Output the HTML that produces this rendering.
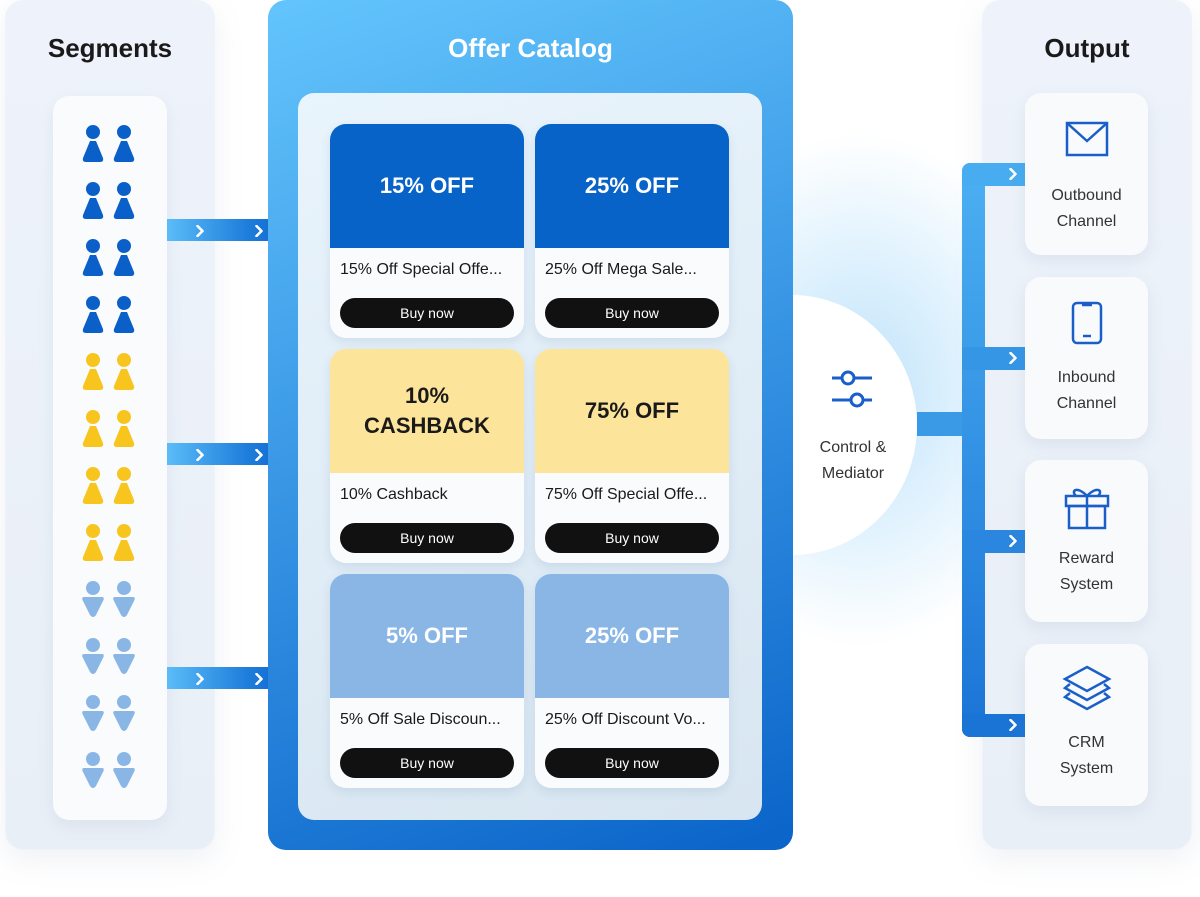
<!DOCTYPE html>
<html><head><meta charset="utf-8"><style>
*{margin:0;padding:0;box-sizing:border-box}
body{width:1200px;height:897px;background:#fff;position:relative;overflow:hidden;font-family:"Liberation Sans","DejaVu Sans",sans-serif}
.abs{position:absolute}
.sidep{background:linear-gradient(180deg,#eef3fb,#e9eff7);border-radius:18px;border:1px solid #f0f3f8;box-shadow:0 10px 30px rgba(120,140,170,.12)}
.title{font-weight:bold;font-size:26px;color:#1a1a1a;text-align:center}
.conn{height:22px;background:linear-gradient(90deg,#5bbcf7,#1f7fdc 60%,#0a5fc9)}
.card{width:194px;height:214px;border-radius:16px;background:#fafbfd;overflow:hidden;box-shadow:0 4px 10px rgba(60,100,150,.12)}
.hd{height:124px;display:flex;align-items:center;justify-content:center;font-weight:bold;font-size:22px;text-align:center;line-height:30px}
.tx{font-size:16px;color:#1a1a1a;padding:13px 0 0 10px;height:50px}
.bt{margin:0 10px;height:30px;border-radius:15px;background:#111;color:#fff;font-size:14px;text-align:center;line-height:30px}
.oc{left:1025px;width:123px;height:162px;border-radius:16px;background:#f9fafc;box-shadow:0 6px 16px rgba(100,120,150,.12);text-align:center;font-size:16px;color:#333;line-height:26px}
.oc svg{display:block;margin:28px auto 26px}
.br{left:962px;width:63px;height:23px}
</style></head><body>
<svg width="0" height="0" style="position:absolute"><defs><path id="ch" d="M0,0 L5,5 L0,10" fill="none" stroke="#fff" stroke-width="2.6" stroke-linecap="round" stroke-linejoin="round"/></defs></svg>
<!-- glow -->
<div class="abs" style="left:660px;top:130px;width:400px;height:520px;background:radial-gradient(ellipse at center,#bfe3fb 0%,rgba(215,238,253,.7) 40%,rgba(255,255,255,0) 70%)"></div>
<!-- left panel -->
<div class="abs sidep" style="left:5px;top:0px;width:210px;height:850px"></div>
<div class="abs title" style="left:5px;top:33px;width:210px">Segments</div>
<div class="abs" style="left:53px;top:96px;width:114px;height:724px;background:#f9fbfd;border-radius:16px;box-shadow:0 6px 16px rgba(100,120,150,.1)"></div>
<svg class="abs" style="left:53px;top:96px" width="114" height="724">
<defs>
<g id="pu"><circle cx="0" cy="-16" r="7"/><path d="M-3,-7 L3,-7 L10,10 Q11,14 7,14 L-7,14 Q-11,14 -10,10 Z"/></g>
<g id="pd"><circle cx="0" cy="-16" r="7"/><path d="M-9,-7 L9,-7 Q12,-7 10,-3 L3,11 Q0,15 -3,11 L-10,-3 Q-12,-7 -9,-7 Z"/></g>
</defs>
<g fill="#0a5fc9">
<use href="#pu" x="40" y="52"/><use href="#pu" x="71" y="52"/>
<use href="#pu" x="40" y="109"/><use href="#pu" x="71" y="109"/>
<use href="#pu" x="40" y="166"/><use href="#pu" x="71" y="166"/>
<use href="#pu" x="40" y="223"/><use href="#pu" x="71" y="223"/></g>
<g fill="#f8c51f">
<use href="#pu" x="40" y="280"/><use href="#pu" x="71" y="280"/>
<use href="#pu" x="40" y="337"/><use href="#pu" x="71" y="337"/>
<use href="#pu" x="40" y="394"/><use href="#pu" x="71" y="394"/>
<use href="#pu" x="40" y="451"/><use href="#pu" x="71" y="451"/></g>
<g fill="#8ab6e6">
<use href="#pd" x="40" y="508"/><use href="#pd" x="71" y="508"/>
<use href="#pd" x="40" y="565"/><use href="#pd" x="71" y="565"/>
<use href="#pd" x="40" y="622"/><use href="#pd" x="71" y="622"/>
<use href="#pd" x="40" y="679"/><use href="#pd" x="71" y="679"/></g>
</svg>
<!-- connectors left -->
<div class="abs conn" style="left:167px;top:219px;width:131px"><svg class="abs" style="left:29px;top:6px" width="8" height="12"><use href="#ch" x="1.5" y="1"/></svg><svg class="abs" style="left:88px;top:6px" width="8" height="12"><use href="#ch" x="1.5" y="1"/></svg></div>
<div class="abs conn" style="left:167px;top:443px;width:131px"><svg class="abs" style="left:29px;top:6px" width="8" height="12"><use href="#ch" x="1.5" y="1"/></svg><svg class="abs" style="left:88px;top:6px" width="8" height="12"><use href="#ch" x="1.5" y="1"/></svg></div>
<div class="abs conn" style="left:167px;top:667px;width:131px"><svg class="abs" style="left:29px;top:6px" width="8" height="12"><use href="#ch" x="1.5" y="1"/></svg><svg class="abs" style="left:88px;top:6px" width="8" height="12"><use href="#ch" x="1.5" y="1"/></svg></div>
<!-- circle -->
<div class="abs" style="left:667px;top:295px;width:250px;height:260px;border-radius:50%;background:#fff"></div>
<svg class="abs" style="left:830px;top:368px" width="44" height="40" fill="none" stroke="#1a5fc8" stroke-width="3"><line x1="2" y1="10" x2="42" y2="10"/><line x1="2" y1="32" x2="42" y2="32"/><circle cx="18" cy="10" r="6" fill="#fff"/><circle cx="27" cy="32" r="6" fill="#fff"/></svg>
<div class="abs" style="left:800px;top:435px;width:106px;text-align:center;font-size:16px;line-height:26px;color:#333">Control &amp;<br>Mediator</div>
<!-- catalog -->
<div class="abs" style="left:268px;top:0px;width:525px;height:850px;border-radius:18px;background:linear-gradient(160deg,#63c5fc 0%,#3a98e6 45%,#0a64c9 100%)"></div>
<div class="abs" style="left:268px;top:33px;width:525px;text-align:center;color:#fff;font-weight:bold;font-size:26px">Offer Catalog</div>
<div class="abs" style="left:298px;top:93px;width:464px;height:727px;border-radius:16px;background:linear-gradient(160deg,#e9f4fc,#d8e6f1)"></div>
<div class="abs card" style="left:330px;top:124px"><div class="hd" style="background:#0863c9;color:#fff">15% OFF</div><div class="tx">15% Off Special Offe...</div><div class="bt">Buy now</div></div>
<div class="abs card" style="left:535px;top:124px"><div class="hd" style="background:#0863c9;color:#fff">25% OFF</div><div class="tx">25% Off Mega Sale...</div><div class="bt">Buy now</div></div>
<div class="abs card" style="left:330px;top:349px"><div class="hd" style="background:#fce49b;color:#1a1a1a">10%<br>CASHBACK</div><div class="tx">10% Cashback</div><div class="bt">Buy now</div></div>
<div class="abs card" style="left:535px;top:349px"><div class="hd" style="background:#fce49b;color:#1a1a1a">75% OFF</div><div class="tx">75% Off Special Offe...</div><div class="bt">Buy now</div></div>
<div class="abs card" style="left:330px;top:574px"><div class="hd" style="background:#8ab6e6;color:#fff">5% OFF</div><div class="tx">5% Off Sale Discoun...</div><div class="bt">Buy now</div></div>
<div class="abs card" style="left:535px;top:574px"><div class="hd" style="background:#8ab6e6;color:#fff">25% OFF</div><div class="tx">25% Off Discount Vo...</div><div class="bt">Buy now</div></div>
<!-- right panel -->
<div class="abs sidep" style="left:982px;top:0px;width:210px;height:850px"></div>
<div class="abs title" style="left:982px;top:33px;width:210px">Output</div>
<!-- bus -->
<div class="abs" style="left:917px;top:412px;width:60px;height:24px;background:#3a9ae6"></div>
<div class="abs" style="left:962px;top:163px;width:23px;height:574px;border-radius:8px 0 0 8px;background:linear-gradient(180deg,#4cb0f2,#1a74d6)"></div>
<div class="abs br" style="top:163px;background:#47acf0;border-top-left-radius:8px"><svg class="abs" style="left:47px;top:5px" width="8" height="12"><use href="#ch" x="1.5" y="1"/></svg></div>
<div class="abs br" style="top:347px;background:#3596e6"><svg class="abs" style="left:47px;top:5px" width="8" height="12"><use href="#ch" x="1.5" y="1"/></svg></div>
<div class="abs br" style="top:530px;background:#2a86de"><svg class="abs" style="left:47px;top:5px" width="8" height="12"><use href="#ch" x="1.5" y="1"/></svg></div>
<div class="abs br" style="top:714px;background:#1a74d6;border-bottom-left-radius:8px"><svg class="abs" style="left:47px;top:5px" width="8" height="12"><use href="#ch" x="1.5" y="1"/></svg></div>
<div class="abs oc" style="top:93px"><svg width="44" height="36" fill="none" stroke="#1a5fc8" stroke-width="2.5"><rect x="2" y="2" width="40" height="32"/><path d="M2,2 L22,20 L42,2"/></svg>Outbound<br>Channel</div>
<div class="abs oc" style="top:277px"><svg width="32" height="44" fill="none" stroke="#1a5fc8" stroke-width="2.5" style="margin-top:24px;margin-bottom:20px"><rect x="2" y="2" width="28" height="40" rx="4"/><line x1="11" y1="4" x2="21" y2="4"/><line x1="12" y1="35" x2="20" y2="35"/></svg>Inbound<br>Channel</div>
<div class="abs oc" style="top:460px"><svg width="46" height="46" fill="none" stroke="#1a5fc8" stroke-width="2.5" style="margin-top:24px;margin-bottom:16px"><rect x="2" y="12" width="42" height="10"/><rect x="5" y="22" width="36" height="22"/><line x1="23" y1="12" x2="23" y2="44"/><path d="M23,12 C14,2 6,6 12,12 M23,12 C32,2 40,6 34,12"/></svg>Reward<br>System</div>
<div class="abs oc" style="top:644px"><svg width="50" height="50" fill="none" stroke="#1a5fc8" stroke-width="2.5" style="margin-top:20px;margin-bottom:16px"><path d="M25,3 L47,15 L25,27 L3,15 Z"/><path d="M8,20 L3,24 L25,36 L47,24 L42,20"/><path d="M8,29 L3,33 L25,45 L47,33 L42,29"/></svg>CRM<br>System</div>
</body></html>
